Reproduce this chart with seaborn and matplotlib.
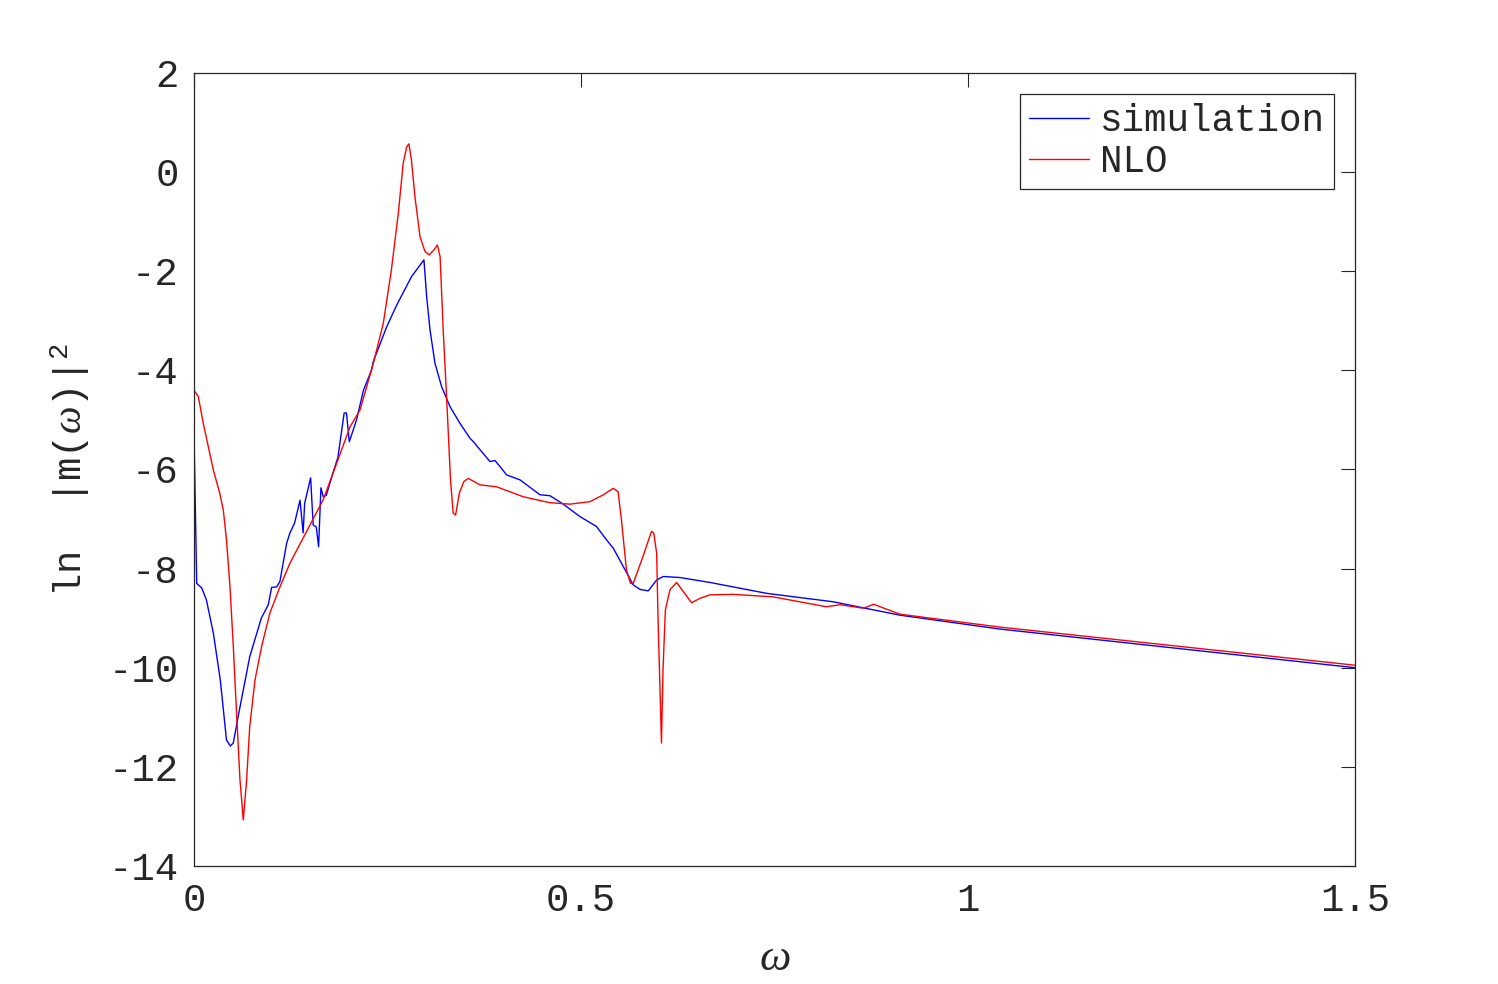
import matplotlib
matplotlib.use("Agg")
import matplotlib.pyplot as plt
import seaborn as sns
import pandas as pd

sim_x = [0.0, 0.0035, 0.01, 0.016, 0.025, 0.034, 0.042, 0.047, 0.0508, 0.057, 0.0637, 0.072,
         0.087, 0.096, 0.1003, 0.1068, 0.111, 0.1197, 0.124, 0.130, 0.137, 0.141, 0.143, 0.1507,
         0.154, 0.158, 0.161, 0.164, 0.167, 0.171, 0.178, 0.186, 0.194, 0.197, 0.2007, 0.210,
         0.219, 0.2295, 0.2317, 0.249, 0.262, 0.281, 0.2971, 0.3006, 0.305, 0.3114, 0.320,
         0.3307, 0.3437, 0.3566, 0.361, 0.3824, 0.389, 0.404, 0.4212, 0.447, 0.460, 0.4771,
         0.4986, 0.520, 0.533, 0.5418, 0.5547, 0.5676, 0.5762, 0.587, 0.5978, 0.6063, 0.6277,
         0.6667, 0.740, 0.826, 0.912, 1.041, 1.5]
sim_y = [-5.26, -8.30, -8.39, -8.63, -9.30, -10.25, -11.46, -11.58, -11.52, -10.99, -10.45, -9.78,
         -9.00, -8.73, -8.38, -8.37, -8.26, -7.49, -7.28, -7.08, -6.62, -7.28, -6.68, -6.17,
         -7.12, -7.16, -7.56, -6.37, -6.55, -6.52, -6.15, -5.75, -4.86, -4.86, -5.44, -5.00,
         -4.40, -3.99, -3.82, -3.12, -2.68, -2.11, -1.77, -2.51, -3.19, -3.86, -4.33,
         -4.73, -5.07, -5.37, -5.44, -5.84, -5.82, -6.11, -6.21, -6.51, -6.53, -6.70,
         -6.95, -7.15, -7.42, -7.59, -7.96, -8.33, -8.42, -8.45, -8.23, -8.16, -8.18,
         -8.28, -8.50, -8.67, -8.94, -9.22, -10.0]

nlo_x = [0.0, 0.0056, 0.012, 0.0185, 0.025, 0.0333, 0.0379, 0.042, 0.0465, 0.0508, 0.055, 0.0594,
         0.0637, 0.068, 0.072, 0.0788, 0.0874, 0.098, 0.111, 0.124, 0.167, 0.2016, 0.2145, 0.2317,
         0.2446, 0.255, 0.264, 0.2703, 0.2748, 0.2777, 0.281, 0.2855, 0.292, 0.2984, 0.304,
         0.310, 0.3145, 0.318, 0.322, 0.3274, 0.3314, 0.3349, 0.338, 0.3428, 0.3488, 0.3545,
         0.3695, 0.391, 0.4253, 0.4597, 0.4858, 0.5116, 0.529, 0.5417, 0.548, 0.5523, 0.5588,
         0.564, 0.5675, 0.580, 0.5911, 0.594, 0.5978, 0.5996, 0.602, 0.604, 0.606, 0.609,
         0.6149, 0.6235, 0.632, 0.643, 0.6537, 0.6667, 0.697, 0.748, 0.817, 0.835, 0.865,
         0.878, 0.912, 1.041, 1.5]
nlo_y = [-4.40, -4.53, -5.07, -5.54, -6.01, -6.48, -6.82, -7.42, -8.37, -9.57, -10.92, -12.26,
         -13.07, -12.26, -11.19, -10.25, -9.57, -8.90, -8.37, -7.89, -6.61, -5.14, -4.80, -3.86,
         -3.05, -1.98, -0.83, 0.18, 0.51, 0.57, 0.24, -0.50, -1.30, -1.60, -1.67,
         -1.57, -1.47, -1.71, -3.19, -4.87, -6.21, -6.88, -6.92, -6.48, -6.24, -6.18,
         -6.31, -6.35, -6.55, -6.67, -6.70, -6.65, -6.51, -6.38, -6.45, -7.02, -8.03,
         -8.30, -8.30, -7.76, -7.25, -7.28, -7.69, -9.04, -10.38, -11.52, -10.05, -8.84,
         -8.43, -8.28, -8.46, -8.69, -8.60, -8.53, -8.52, -8.57, -8.77, -8.73, -8.80,
         -8.72, -8.92, -9.18, -9.95]

series_names = ["simulation", "NLO"]
x_ticks = [0, 0.5, 1, 1.5]
x_tick_labels = ["0", "0.5", "1", "1.5"]
y_ticks = [-14, -12, -10, -8, -6, -4, -2, 0, 2]

df = pd.concat([
    pd.DataFrame({"omega": sim_x, "val": sim_y, "series": series_names[0]}),
    pd.DataFrame({"omega": nlo_x, "val": nlo_y, "series": series_names[1]}),
], ignore_index=True)

sns.set_theme(style="white")
plt.rcParams["font.family"] = ["Liberation Mono", "DejaVu Sans"]
plt.rcParams["axes.unicode_minus"] = False
plt.rcParams["mathtext.fontset"] = "custom"
plt.rcParams["mathtext.rm"] = "Liberation Mono"
plt.rcParams["mathtext.it"] = "Liberation Serif:italic"

fig = plt.figure(figsize=(14.98, 9.84), dpi=100)
ax = fig.add_axes([0.1295, 0.120, 0.775, 0.8058])

sns.lineplot(data=df, x="omega", y="val", hue="series", sort=False, estimator=None,
             palette={"simulation": "#0000ff", "NLO": "#ff0000"}, linewidth=1.0, ax=ax)

ax.set_xlim(0, 1.5)
ax.set_ylim(-14, 2)
ax.set_xticks(x_ticks)
ax.set_xticklabels(x_tick_labels)
ax.set_yticks(y_ticks)
ax.tick_params(direction="in", length=10, width=0.8, top=True, right=True,
               labelsize=28, colors="#262626")
ax.tick_params(axis="x", pad=12)
ax.tick_params(axis="y", pad=11)
for s in ax.spines.values():
    s.set_visible(True)
    s.set_color("#262626")
    s.set_linewidth(0.9)

ax.set_xlabel(r"$\omega$", fontsize=32, color="#262626", labelpad=14)
ax.set_ylabel(r"ln  |m($\omega$)|$^{2}$", fontsize=28, color="#262626", labelpad=12)

leg = ax.legend(loc="upper right", fontsize=27, frameon=True, fancybox=False,
                handlelength=1.6, handletextpad=0.28, borderpad=0.25, labelspacing=0.12,
                borderaxespad=0, bbox_to_anchor=(0.982, 0.9735))
leg.get_frame().set_edgecolor("#262626")
leg.get_frame().set_linewidth(0.9)
leg.get_frame().set_alpha(1)
for t in leg.get_texts():
    t.set_color("#262626")

fig.savefig("out.png", dpi=100)
